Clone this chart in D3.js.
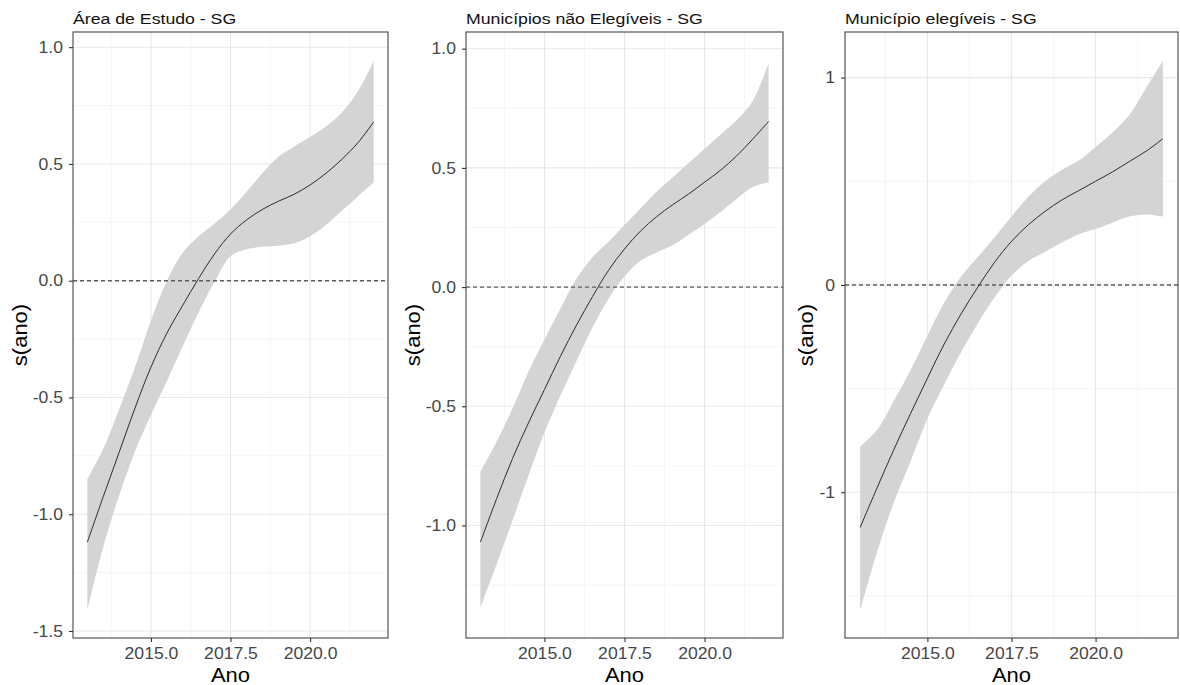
<!DOCTYPE html>
<html>
<head>
<meta charset="utf-8">
<script src="https://cdn.jsdelivr.net/npm/d3@7"></script>
<style>
  html, body { margin: 0; padding: 0; background: #ffffff; }
  svg { display: block; }
  text { font-family: "Liberation Sans", Arial, sans-serif; }
</style>
</head>
<body>
<svg id="chart" width="1180" height="685"></svg>
<script>
// Smooth term s(ano) from GAM fits, with confidence band, for three groups.
const years = [2013, 2013.5, 2014, 2014.5, 2015, 2015.5, 2016, 2016.5, 2017, 2017.5,
               2018, 2018.5, 2019, 2019.5, 2020, 2020.5, 2021, 2021.5, 2022];

const panelTitles = ["Área de Estudo - SG", "Municípios não Elegíveis - SG", "Município elegíveis - SG"];

// Área de Estudo
const fitArea   = [-1.12, -0.925, -0.735, -0.545, -0.37, -0.225, -0.105, 0.01, 0.115, 0.20,
                    0.26, 0.305, 0.34, 0.37, 0.41, 0.46, 0.52, 0.59, 0.68];
const lowerArea = [-1.41, -1.14, -0.92, -0.73, -0.575, -0.43, -0.28, -0.135, -0.005, 0.105,
                    0.135, 0.145, 0.15, 0.16, 0.19, 0.24, 0.30, 0.36, 0.42];
const upperArea = [-0.85, -0.72, -0.55, -0.37, -0.17, 0.00, 0.12, 0.19, 0.245, 0.305,
                    0.38, 0.46, 0.53, 0.575, 0.615, 0.66, 0.72, 0.81, 0.94];

// Municípios não elegíveis
const fitNao   = [-1.07, -0.89, -0.72, -0.57, -0.43, -0.29, -0.16, -0.04, 0.07, 0.16,
                   0.235, 0.295, 0.345, 0.39, 0.44, 0.49, 0.55, 0.62, 0.695];
const lowerNao = [-1.345, -1.165, -0.98, -0.79, -0.61, -0.455, -0.31, -0.17, -0.05, 0.045,
                   0.11, 0.145, 0.175, 0.22, 0.265, 0.315, 0.37, 0.42, 0.44];
const upperNao = [-0.775, -0.65, -0.51, -0.355, -0.22, -0.09, 0.035, 0.125, 0.19, 0.26,
                   0.33, 0.40, 0.46, 0.52, 0.58, 0.64, 0.70, 0.78, 0.94];

// Municípios elegíveis
const fitEleg   = [-1.17, -0.98, -0.795, -0.62, -0.45, -0.285, -0.14, -0.01, 0.11, 0.21,
                    0.29, 0.355, 0.41, 0.455, 0.50, 0.545, 0.595, 0.645, 0.705];
const lowerEleg = [-1.57, -1.29, -1.05, -0.85, -0.645, -0.48, -0.325, -0.185, -0.06, 0.045,
                    0.115, 0.16, 0.205, 0.245, 0.27, 0.30, 0.33, 0.34, 0.33];
const upperEleg = [-0.78, -0.70, -0.56, -0.41, -0.245, -0.085, 0.04, 0.135, 0.23, 0.33,
                    0.425, 0.50, 0.555, 0.60, 0.665, 0.735, 0.82, 0.95, 1.08];

// Axis breaks
const xTicks = [2015, 2017.5, 2020];
const xMinor = [2013.75, 2016.25, 2018.75, 2021.25];
const yTicksArea = [-1.5, -1.0, -0.5, 0.0, 0.5, 1.0];
const yMinorArea = [-1.25, -0.75, -0.25, 0.25, 0.75];
const yTicksNao  = [-1.0, -0.5, 0.0, 0.5, 1.0];
const yMinorNao  = [-1.25, -0.75, -0.25, 0.25, 0.75];
const yTicksEleg = [-1, 0, 1];
const yMinorEleg = [-1.5, -0.5, 0.5];

// Scale limits (data range with a 5% expansion)
const yLimitsArea = [-1.53, 1.065];
const yLimitsNao  = [-1.472, 1.07];
const yLimitsEleg = [-1.703, 1.22];

const panels = [
  { title: panelTitles[0], fit: fitArea, lower: lowerArea, upper: upperArea,
    yTicks: yTicksArea, yMinor: yMinorArea, yLim: yLimitsArea, digits: 1, left: 73, right: 388 },
  { title: panelTitles[1], fit: fitNao, lower: lowerNao, upper: upperNao,
    yTicks: yTicksNao, yMinor: yMinorNao, yLim: yLimitsNao, digits: 1, left: 466, right: 783 },
  { title: panelTitles[2], fit: fitEleg, lower: lowerEleg, upper: upperEleg,
    yTicks: yTicksEleg, yMinor: yMinorEleg, yLim: yLimitsEleg, digits: 0, left: 845, right: 1178 }
];

const panelTop = 32, panelBottom = 638;
const svg = d3.select("#chart");

const xExtent = d3.extent(years);
const xPad = (xExtent[1] - xExtent[0]) * 0.05;
const sx = 1.1; // horizontal glyph stretch

panels.forEach(p => {
  const w = p.right - p.left, h = panelBottom - panelTop;
  const g = svg.append("g").attr("transform", `translate(${p.left},${panelTop})`);

  const x = d3.scaleLinear().domain([xExtent[0] - xPad, xExtent[1] + xPad]).range([0, w]);
  const y = d3.scaleLinear().domain(p.yLim).range([h, 0]);

  const rows = years.map((yr, i) => ({ yr, fit: p.fit[i], lo: p.lower[i], hi: p.upper[i] }));

  // grid
  const grid = g.append("g");
  grid.selectAll(".xmin").data(xMinor).join("line")
    .attr("x1", d => x(d)).attr("x2", d => x(d)).attr("y1", 0).attr("y2", h)
    .attr("stroke", "#f2f2f2").attr("stroke-width", 0.8);
  grid.selectAll(".ymin").data(p.yMinor).join("line")
    .attr("y1", d => y(d)).attr("y2", d => y(d)).attr("x1", 0).attr("x2", w)
    .attr("stroke", "#f2f2f2").attr("stroke-width", 0.8);
  grid.selectAll(".xmaj").data(xTicks).join("line")
    .attr("x1", d => x(d)).attr("x2", d => x(d)).attr("y1", 0).attr("y2", h)
    .attr("stroke", "#e8e8e8").attr("stroke-width", 1.1);
  grid.selectAll(".ymaj").data(p.yTicks).join("line")
    .attr("y1", d => y(d)).attr("y2", d => y(d)).attr("x1", 0).attr("x2", w)
    .attr("stroke", "#e8e8e8").attr("stroke-width", 1.1);

  // confidence band
  const curve = d3.curveCatmullRom.alpha(0.5);
  g.append("path").datum(rows)
    .attr("d", d3.area().x(d => x(d.yr)).y0(d => y(d.lo)).y1(d => y(d.hi)).curve(curve))
    .attr("fill", "#d4d4d4");

  // zero reference
  g.append("line")
    .attr("x1", 0).attr("x2", w).attr("y1", y(0)).attr("y2", y(0))
    .attr("stroke", "#5e5e5e").attr("stroke-width", 1.4).attr("stroke-dasharray", "4,3");

  // smooth estimate
  g.append("path").datum(rows)
    .attr("d", d3.line().x(d => x(d.yr)).y(d => y(d.fit)).curve(curve))
    .attr("fill", "none").attr("stroke", "#2b2b2b").attr("stroke-width", 1);

  // panel border
  g.append("rect").attr("x", 0).attr("y", 0).attr("width", w).attr("height", h)
    .attr("fill", "none").attr("stroke", "#555555").attr("stroke-width", 1.2);

  // axes
  const xAxis = g.append("g").attr("transform", `translate(0,${h})`)
    .call(d3.axisBottom(x).tickValues(xTicks).tickFormat(d => d.toFixed(1))
      .tickSize(4).tickPadding(6).tickSizeOuter(0));
  const yAxis = g.append("g")
    .call(d3.axisLeft(y).tickValues(p.yTicks).tickFormat(d => d.toFixed(p.digits))
      .tickSize(4).tickPadding(5).tickSizeOuter(0));

  [xAxis, yAxis].forEach(a => {
    a.select(".domain").remove();
    a.selectAll(".tick line").attr("stroke", "#333333").attr("stroke-width", 1.1);
    a.selectAll(".tick text").attr("fill", "#474747").attr("font-size", 16)
      .attr("font-family", "Liberation Sans, Arial, sans-serif");
  });
  xAxis.selectAll(".tick text").attr("transform", `scale(${sx},1)`);
  yAxis.selectAll(".tick text").attr("x", -10 / sx).attr("transform", `scale(${sx},1)`);

  // axis titles
  g.append("text")
    .attr("transform", `translate(${w / 2},${h + 44}) scale(${sx},1)`)
    .attr("text-anchor", "middle").attr("font-size", 20).attr("fill", "#000")
    .text("Ano");

  const bb = yAxis.node().getBBox();
  g.append("text")
    .attr("transform", `translate(${bb.x - 6},${h / 2}) rotate(-90) scale(${sx},1)`)
    .attr("text-anchor", "middle").attr("font-size", 20).attr("fill", "#000")
    .text("s(ano)");

  // panel title
  g.append("text")
    .attr("transform", `translate(0,-8) scale(1.18,1)`)
    .attr("font-size", 15).attr("fill", "#111")
    .text(p.title);
});
</script>
</body>
</html>
